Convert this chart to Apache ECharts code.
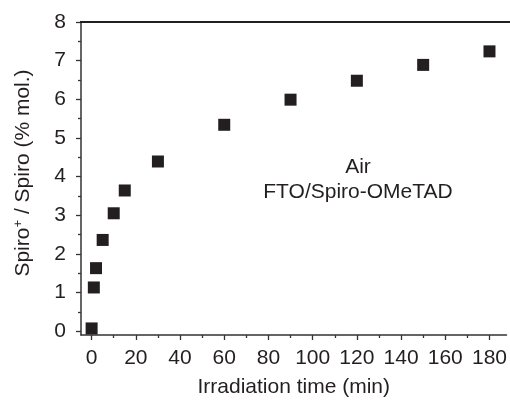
<!DOCTYPE html>
<html><head><meta charset="utf-8">
<script src="https://cdn.jsdelivr.net/npm/echarts@6/dist/echarts.min.js"></script>
<style>html,body{margin:0;padding:0;background:#fff}#c{width:510px;height:403px}</style>
</head><body><div id="c"></div>
<script>
var times = [0, 1, 2, 5, 10, 15, 30, 60, 90, 120, 150, 180];
var ratios = [0.07, 1.13, 1.63, 2.36, 3.05, 3.64, 4.39, 5.34, 5.99, 6.48, 6.89, 7.24];
var xTicks = [0, 20, 40, 60, 80, 100, 120, 140, 160, 180];
var xMinor = [10, 30, 50, 70, 90, 110, 130, 150, 170];
var yTicks = [0, 1, 2, 3, 4, 5, 6, 7, 8];
var yMinor = [0.5, 1.5, 2.5, 3.5, 4.5, 5.5, 6.5, 7.5];
var xTitle = 'Irradiation time (min)';
var annotation = ['Air', 'FTO/Spiro-OMeTAD'];

var FONT = '"Liberation Sans", Arial, sans-serif';
var FS = 21;
var TXT = '#231f20';
var AX = '#333333';
var GRID_LEFT = 81, GRID_TOP = 22;
var chart = echarts.init(document.getElementById('c'));
var xMin = -4.8, xMax = 187.7, yMin = -0.1, yMax = 8;
chart.setOption({
  animation: false,
  grid: {left: GRID_LEFT, top: GRID_TOP, right: 0, bottom: 63, containLabel: false},
  xAxis: [
    {type: 'value', position: 'bottom', min: xMin, max: xMax,
     axisLine: {show: true, onZero: false, lineStyle: {color: AX, width: 1.5}},
     axisTick: {show: true, customValues: xTicks, length: 5, lineStyle: {color: AX, width: 1.3}},
     axisLabel: {customValues: xTicks, margin: 13, fontSize: FS, fontFamily: FONT, color: TXT},
     splitLine: {show: false},
     name: xTitle, nameLocation: 'middle', nameGap: 42,
     nameTextStyle: {fontSize: FS, fontFamily: FONT, color: TXT}},
    {type: 'value', position: 'bottom', min: xMin, max: xMax,
     axisLine: {show: false, onZero: false},
     axisTick: {show: true, customValues: xMinor, length: 3, lineStyle: {color: AX, width: 1.3}},
     axisLabel: {show: false}, splitLine: {show: false}}
  ],
  yAxis: [
    {type: 'value', position: 'left', min: yMin, max: yMax,
     axisLine: {show: true, onZero: false, lineStyle: {color: AX, width: 1.5}},
     axisTick: {show: true, customValues: yTicks, length: 5, lineStyle: {color: AX, width: 1.3}},
     axisLabel: {customValues: yTicks, margin: 15, fontSize: FS, fontFamily: FONT, color: TXT},
     splitLine: {show: false}},
    {type: 'value', position: 'left', min: yMin, max: yMax,
     axisLine: {show: false, onZero: false},
     axisTick: {show: true, customValues: yMinor, length: 3, lineStyle: {color: AX, width: 1.3}},
     axisLabel: {show: false}, splitLine: {show: false}}
  ],
  graphic: [
    {type: 'text', x: 23, y: 173, rotation: Math.PI / 2,
     style: {text: '{a|Spiro}{s|+}{a| / Spiro (% mol.)}', align: 'center', verticalAlign: 'middle',
       rich: {a: {fontSize: FS, fontFamily: FONT, fill: TXT},
              s: {fontSize: 13, fontFamily: FONT, fill: TXT, verticalAlign: 'top', padding: [0, 0, 10, 0]}}}},
    {type: 'text', x: 358, y: 167,
     style: {text: annotation[0], align: 'center', verticalAlign: 'middle', fontSize: FS, fontFamily: FONT, fill: TXT}},
    {type: 'text', x: 358, y: 192,
     style: {text: annotation[1], align: 'center', verticalAlign: 'middle', fontSize: FS, fontFamily: FONT, fill: TXT}},
    {type: 'rect', z: 100, shape: {x: GRID_LEFT - 1, y: GRID_TOP - 1, width: 510 - GRID_LEFT + 1, height: 2},
     style: {fill: '#231f20'}}
  ],
  series: [{
    type: 'scatter', xAxisIndex: 0, yAxisIndex: 0,
    symbol: 'rect', symbolSize: 12,
    itemStyle: {color: '#231f20', opacity: 1},
    data: times.map(function (t, i) { return [t, ratios[i]]; })
  }]
});
</script></body></html>
